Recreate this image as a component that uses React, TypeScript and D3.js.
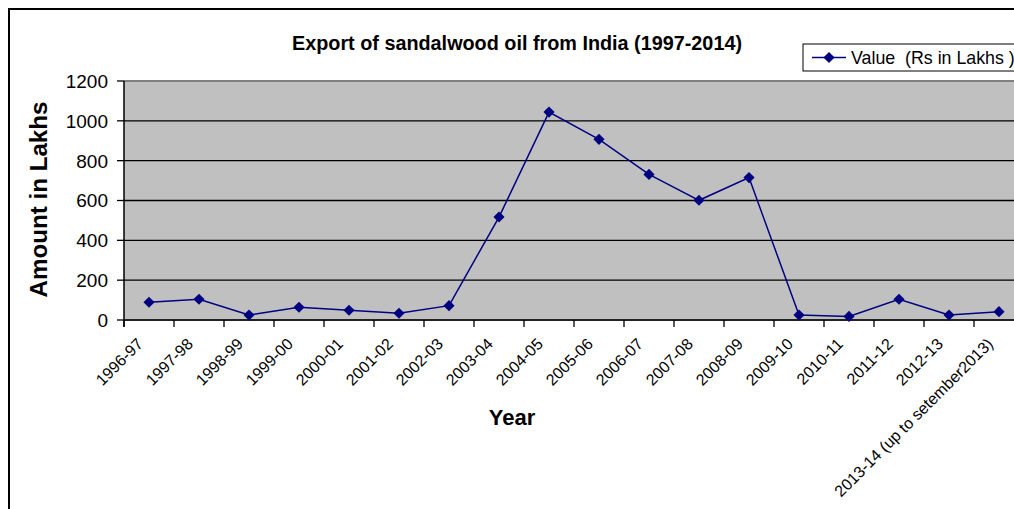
import React from "react";
import * as d3 from "d3";

// Export of sandalwood oil from India, value in Rs lakhs per financial year
const years: string[] = [
  "1996-97", "1997-98", "1998-99", "1999-00", "2000-01", "2001-02",
  "2002-03", "2003-04", "2004-05", "2005-06", "2006-07", "2007-08",
  "2008-09", "2009-10", "2010-11", "2011-12", "2012-13",
  "2013-14 (up to setember2013)",
];
const exportValues: number[] = [
  89, 104, 25, 64, 49, 34, 72, 517, 1044, 907, 731, 601, 715, 25, 18, 104, 25, 42,
];
const yTicks: number[] = [0, 200, 400, 600, 800, 1000, 1200];

const chartTitle = "Export of sandalwood oil from India (1997-2014)";
const seriesName = "Value  (Rs in Lakhs )";
const xTitle = "Year";
const yTitle = "Amount in Lakhs";

const W = 1014;
const H = 509;
const plot = { left: 124, right: 1024, top: 81, bottom: 320 };
const FONT = "'Liberation Sans', Arial, sans-serif";
const NAVY = "#000080";

export default function App() {
  const x = d3
    .scaleBand<string>()
    .domain(years)
    .range([plot.left, plot.right])
    .padding(0);
  const y = d3.scaleLinear().domain([0, 1200]).range([plot.bottom, plot.top]);

  const cx = (d: string) => (x(d) ?? 0) + x.bandwidth() / 2;

  const line = d3
    .line<number>()
    .x((_, i) => cx(years[i]))
    .y((v) => y(v));

  const marker = d3.symbol().type(d3.symbolSquare).size(62)() as string;

  const boundaries = years.map((d) => x(d) ?? 0);

  return (
    <svg
      width={W}
      height={H}
      style={{ position: "absolute", left: 0, top: 0, background: "#fff" }}
      fontFamily={FONT}
    >
      {/* chart frame */}
      <rect x={9} y={9} width={1200} height={700} fill="#fff" stroke="#000" strokeWidth={2} />

      {/* title */}
      <text
        x={292}
        y={50}
        fontSize={19.5}
        fontWeight="bold"
        textLength={450}
        lengthAdjust="spacingAndGlyphs"
      >
        {chartTitle}
      </text>

      {/* plot area */}
      <rect
        x={plot.left}
        y={plot.top}
        width={plot.right - plot.left}
        height={plot.bottom - plot.top}
        fill="#C0C0C0"
      />
      <line x1={plot.left} x2={plot.right} y1={plot.top} y2={plot.top} stroke="#808080" strokeWidth={2} />

      {/* gridlines */}
      {yTicks
        .filter((t) => t > 0 && t < 1200)
        .map((t) => (
          <line key={t} x1={plot.left} x2={plot.right} y1={y(t)} y2={y(t)} stroke="#000" strokeWidth={1.4} />
        ))}

      {/* y axis */}
      <line x1={plot.left} x2={plot.left} y1={plot.top} y2={plot.bottom + 7} stroke="#000" strokeWidth={1.5} />
      {yTicks.map((t) => (
        <g key={t}>
          <line x1={plot.left - 7} x2={plot.left} y1={y(t)} y2={y(t)} stroke="#000" strokeWidth={1.3} />
          <text x={108} y={y(t)} dy="0.36em" textAnchor="end" fontSize={19}>
            {t}
          </text>
        </g>
      ))}

      {/* x axis */}
      <line x1={plot.left} x2={plot.right} y1={plot.bottom} y2={plot.bottom} stroke="#222" strokeWidth={2} />
      {boundaries.map((b, i) => (
        <line key={i} x1={b} x2={b} y1={plot.bottom} y2={plot.bottom + 7} stroke="#000" strokeWidth={1.3} />
      ))}
      {years.map((d) => {
        const ax = cx(d) - 9;
        const ay = 341;
        return (
          <text
            key={d}
            x={ax}
            y={ay}
            dy="0.35em"
            textAnchor="end"
            fontSize={16}
            transform={`rotate(-45 ${ax} ${ay})`}
          >
            {d}
          </text>
        );
      })}

      {/* series */}
      <path d={line(exportValues) ?? ""} fill="none" stroke={NAVY} strokeWidth={1.5} />
      {exportValues.map((v, i) => (
        <path
          key={i}
          d={marker}
          fill={NAVY}
          transform={`translate(${cx(years[i])},${y(v)}) rotate(45)`}
        />
      ))}

      {/* axis titles */}
      <text x={512} y={425} textAnchor="middle" fontSize={22} fontWeight="bold">
        {xTitle}
      </text>
      <text
        x={47}
        y={199.5}
        textAnchor="middle"
        fontSize={23.5}
        fontWeight="bold"
        textLength={196}
        lengthAdjust="spacingAndGlyphs"
        transform="rotate(-90 47 199.5)"
      >
        {yTitle}
      </text>

      {/* legend */}
      <rect x={803} y={44} width={260} height={27} fill="#fff" stroke="#000" strokeWidth={1} />
      <line x1={812} x2={846} y1={57.5} y2={57.5} stroke={NAVY} strokeWidth={1.5} />
      <path d={marker} fill={NAVY} transform="translate(829,57.5) rotate(45)" />
      <text x={851} y={64} fontSize={17.8} style={{ whiteSpace: "pre" }}>
        {seriesName}
      </text>
    </svg>
  );
}
